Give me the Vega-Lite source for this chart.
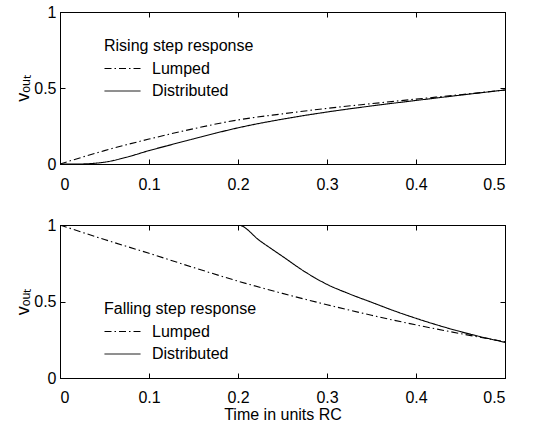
{
  "$schema": "https://vega.github.io/schema/vega-lite/v6.json",
  "autosize": {"type": "pad"},
  "padding": {"left": 14, "top": 3, "right": 5, "bottom": 0},
  "spacing": 61,
  "bounds": "flush",
  "background": "white",
  "config": {
    "font": "Liberation Sans",
    "view": {"stroke": "black", "strokeWidth": 1},
    "axis": {
      "grid": false,
      "domainColor": "black",
      "tickColor": "black",
      "labelColor": "black",
      "titleColor": "black",
      "labelFont": "Liberation Sans",
      "titleFont": "Liberation Sans",
      "labelFontSize": 16,
      "titleFontSize": 16,
      "titleFontWeight": "normal",
      "tickSize": -5
    },
    "legend": {
      "symbolType": "stroke",
      "symbolStrokeColor": "black",
      "symbolStrokeWidth": 1,
      "symbolSize": 1296,
      "clipHeight": 20,
      "rowPadding": 2.5,
      "titlePadding": 4.5,
      "labelOffset": 11,
      "labelFont": "Liberation Sans",
      "titleFont": "Liberation Sans",
      "labelFontSize": 16,
      "titleFontSize": 16,
      "titleFontWeight": "normal",
      "labelColor": "black",
      "titleColor": "black"
    }
  },
  "datasets": {
    "rise": [
      {"t": 0, "v": 0, "series": "Lumped"},
      {"t": 0.025, "v": 0.045, "series": "Lumped"},
      {"t": 0.05, "v": 0.088, "series": "Lumped"},
      {"t": 0.1, "v": 0.164, "series": "Lumped"},
      {"t": 0.15, "v": 0.232, "series": "Lumped"},
      {"t": 0.2, "v": 0.29, "series": "Lumped"},
      {"t": 0.25, "v": 0.33, "series": "Lumped"},
      {"t": 0.3, "v": 0.366, "series": "Lumped"},
      {"t": 0.35, "v": 0.397, "series": "Lumped"},
      {"t": 0.4, "v": 0.427, "series": "Lumped"},
      {"t": 0.45, "v": 0.456, "series": "Lumped"},
      {"t": 0.5, "v": 0.487, "series": "Lumped"},
      {"t": 0, "v": 0, "series": "Distributed"},
      {"t": 0.02, "v": 0, "series": "Distributed"},
      {"t": 0.035, "v": 0.003, "series": "Distributed"},
      {"t": 0.05, "v": 0.012, "series": "Distributed"},
      {"t": 0.075, "v": 0.045, "series": "Distributed"},
      {"t": 0.1, "v": 0.088, "series": "Distributed"},
      {"t": 0.125, "v": 0.127, "series": "Distributed"},
      {"t": 0.15, "v": 0.165, "series": "Distributed"},
      {"t": 0.175, "v": 0.203, "series": "Distributed"},
      {"t": 0.2, "v": 0.238, "series": "Distributed"},
      {"t": 0.25, "v": 0.295, "series": "Distributed"},
      {"t": 0.3, "v": 0.342, "series": "Distributed"},
      {"t": 0.35, "v": 0.382, "series": "Distributed"},
      {"t": 0.4, "v": 0.418, "series": "Distributed"},
      {"t": 0.45, "v": 0.453, "series": "Distributed"},
      {"t": 0.5, "v": 0.487, "series": "Distributed"}
    ],
    "fall": [
      {"t": 0, "v": 1, "series": "Lumped"},
      {"t": 0.05, "v": 0.905, "series": "Lumped"},
      {"t": 0.1, "v": 0.815, "series": "Lumped"},
      {"t": 0.15, "v": 0.722, "series": "Lumped"},
      {"t": 0.2, "v": 0.633, "series": "Lumped"},
      {"t": 0.25, "v": 0.553, "series": "Lumped"},
      {"t": 0.3, "v": 0.479, "series": "Lumped"},
      {"t": 0.35, "v": 0.41, "series": "Lumped"},
      {"t": 0.4, "v": 0.347, "series": "Lumped"},
      {"t": 0.45, "v": 0.29, "series": "Lumped"},
      {"t": 0.5, "v": 0.237, "series": "Lumped"},
      {"t": 0, "v": 1, "series": "Distributed"},
      {"t": 0.2, "v": 1, "series": "Distributed"},
      {"t": 0.225, "v": 0.895, "series": "Distributed"},
      {"t": 0.25, "v": 0.795, "series": "Distributed"},
      {"t": 0.275, "v": 0.695, "series": "Distributed"},
      {"t": 0.3, "v": 0.612, "series": "Distributed"},
      {"t": 0.325, "v": 0.55, "series": "Distributed"},
      {"t": 0.35, "v": 0.495, "series": "Distributed"},
      {"t": 0.375, "v": 0.44, "series": "Distributed"},
      {"t": 0.4, "v": 0.39, "series": "Distributed"},
      {"t": 0.45, "v": 0.303, "series": "Distributed"},
      {"t": 0.5, "v": 0.233, "series": "Distributed"}
    ]
  },
  "vconcat": [
    {
      "width": 445,
      "height": 152,
      "data": {"name": "rise"},
      "resolve": {"axis": {"x": "independent", "y": "independent"}},
      "layer": [
        {
          "mark": {"type": "line", "color": "black", "strokeWidth": 1.1, "clip": true, "interpolate": "monotone"},
          "encoding": {
            "x": {"field": "t", "type": "quantitative",
                  "scale": {"domain": [0, 0.5], "nice": false, "zero": false},
                  "axis": {"orient": "bottom", "values": [0, 0.1, 0.2, 0.3, 0.4, 0.5], "format": "~g", "title": null, "labelPadding": 17}},
            "y": {"field": "v", "type": "quantitative",
                  "scale": {"domain": [0, 1], "nice": false},
                  "axis": {"orient": "left", "values": [0, 0.5, 1], "format": "~g", "title": "vₒᵤₜ", "titleFontSize": 18, "labelPadding": 9, "titlePadding": 1}},
            "strokeDash": {"field": "series", "type": "nominal",
                  "scale": {"domain": ["Lumped", "Distributed"], "range": [[7, 3, 1.5, 3], [1, 0]]},
                  "legend": {"title": "Rising step response", "orient": "none", "legendX": 44, "legendY": 26}}
          }
        },
        {
          "mark": {"type": "line", "strokeOpacity": 0},
          "encoding": {
            "x": {"field": "t", "type": "quantitative",
                  "axis": {"orient": "top", "values": [0, 0.1, 0.2, 0.3, 0.4, 0.5], "labels": false, "title": null}},
            "y": {"field": "v", "type": "quantitative",
                  "axis": {"orient": "right", "values": [0, 0.5, 1], "labels": false, "title": null}},
            "detail": {"field": "series"}
          }
        }
      ]
    },
    {
      "width": 445,
      "height": 153,
      "data": {"name": "fall"},
      "resolve": {"axis": {"x": "independent", "y": "independent"}},
      "layer": [
        {
          "mark": {"type": "line", "color": "black", "strokeWidth": 1.1, "clip": true, "interpolate": "monotone"},
          "encoding": {
            "x": {"field": "t", "type": "quantitative",
                  "scale": {"domain": [0, 0.5], "nice": false, "zero": false},
                  "axis": {"orient": "bottom", "values": [0, 0.1, 0.2, 0.3, 0.4, 0.5], "format": "~g", "title": "Time in units RC", "labelPadding": 16, "titlePadding": 1}},
            "y": {"field": "v", "type": "quantitative",
                  "scale": {"domain": [0, 1], "nice": false},
                  "axis": {"orient": "left", "values": [0, 0.5, 1], "format": "~g", "title": "vₒᵤₜ", "titleFontSize": 18, "labelPadding": 9, "titlePadding": 1}},
            "strokeDash": {"field": "series", "type": "nominal",
                  "scale": {"domain": ["Lumped", "Distributed"], "range": [[7, 3, 1.5, 3], [1, 0]]},
                  "legend": {"title": "Falling step response", "orient": "none", "legendX": 44, "legendY": 76}}
          }
        },
        {
          "mark": {"type": "line", "strokeOpacity": 0},
          "encoding": {
            "x": {"field": "t", "type": "quantitative",
                  "axis": {"orient": "top", "values": [0, 0.1, 0.2, 0.3, 0.4, 0.5], "labels": false, "title": null}},
            "y": {"field": "v", "type": "quantitative",
                  "axis": {"orient": "right", "values": [0, 0.5, 1], "labels": false, "title": null}},
            "detail": {"field": "series"}
          }
        }
      ]
    }
  ],
  "resolve": {"legend": {"strokeDash": "independent"}, "scale": {"strokeDash": "independent"}}
}
